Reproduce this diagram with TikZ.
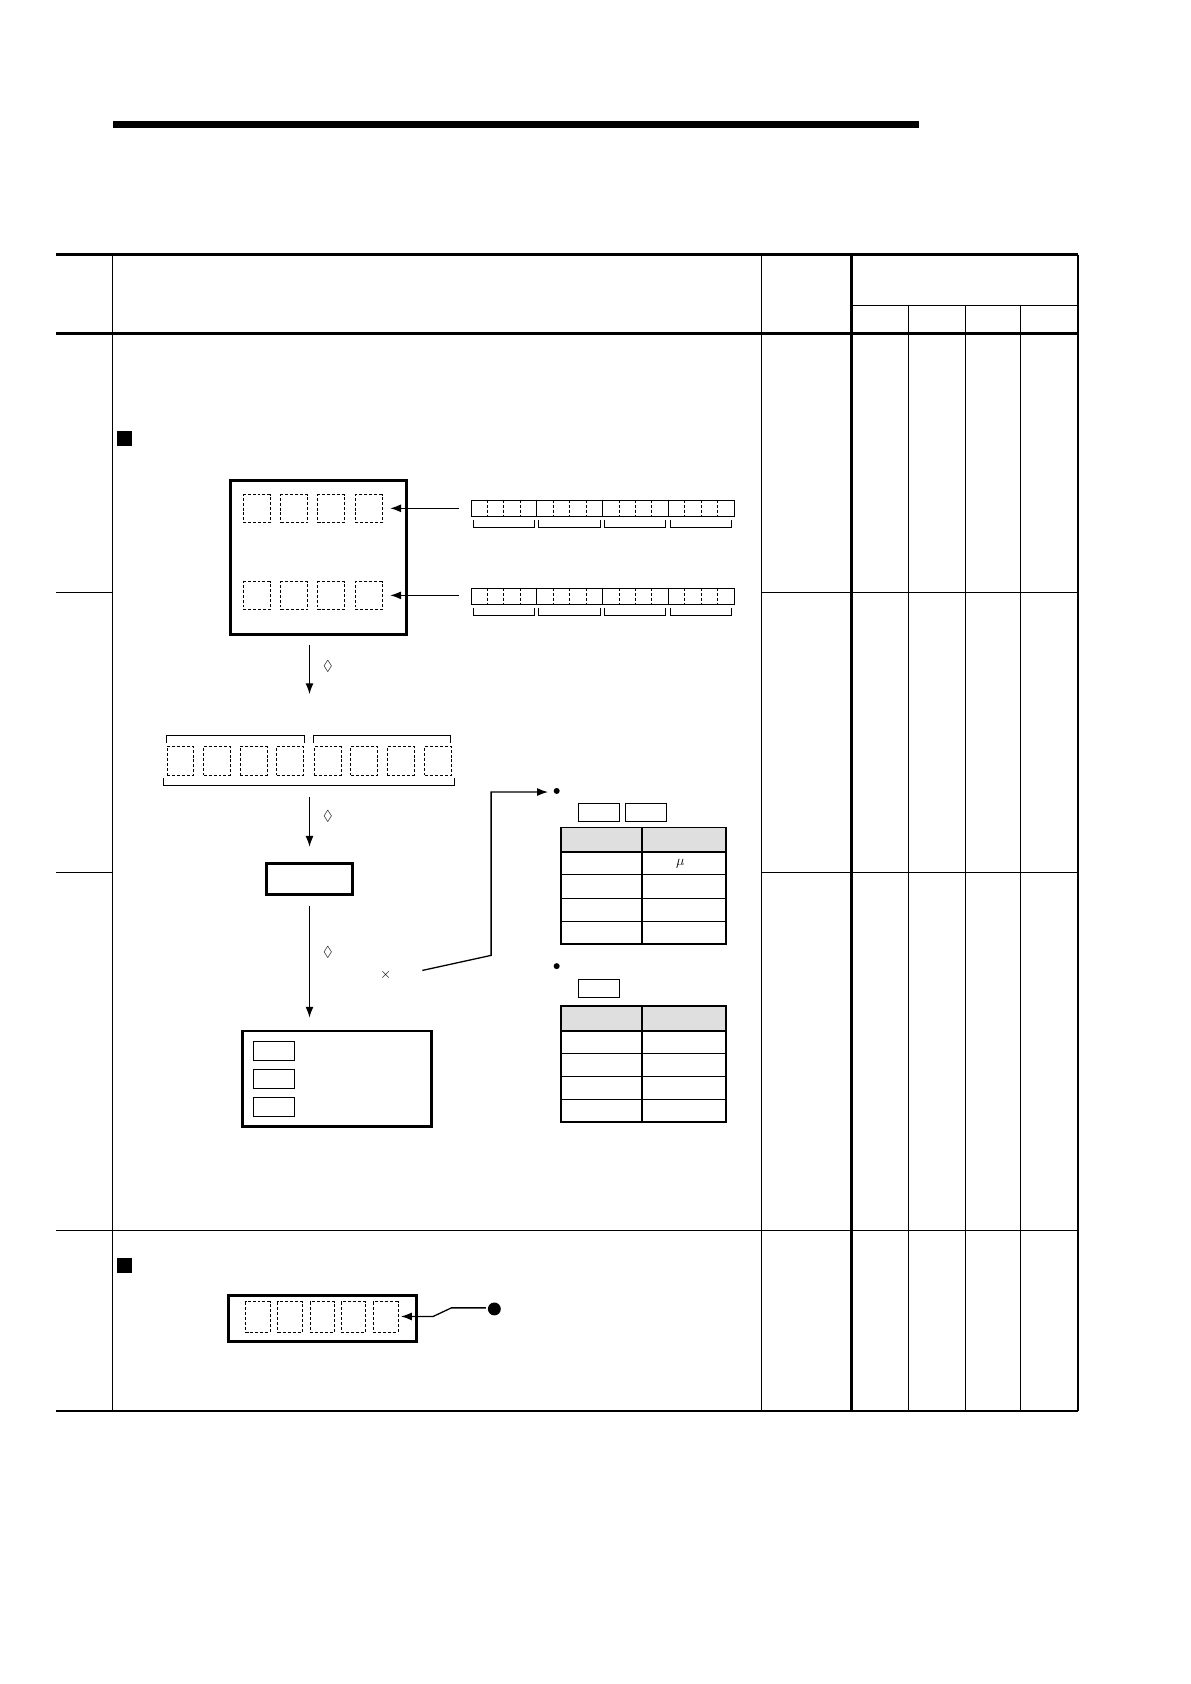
\documentclass[tikz,border=0pt]{standalone}
\usepackage{amssymb}
\usetikzlibrary{arrows.meta}
\tikzset{
  thickbox/.style={draw, line width=2.8pt},
  dashbox/.style={draw, densely dashed, line width=1pt},
  smallbox/.style={draw, line width=1pt},
  thin/.style={line width=1pt},
  thick/.style={line width=2.8pt},
  flow/.style={-{Latex[length=11pt,width=8pt]}, line width=1.3pt},
  sign/.style={font=\Large},
}
\begin{document}
\begin{tikzpicture}[x=1.082pt, y=-1.082pt]
  \useasboundingbox (0,0) rectangle (1108,1567);
  % title bar
  \fill (105,113) rectangle (855,119);
  % outer table frame
  \draw[thick] (52,237) -- (1003,237);
  \draw[thick] (52,310) -- (1003,310);
  \draw[thick] (52,1313) -- (1003,1313);
  \draw[thin] (105,237) -- (105,1313);
  \draw[thin] (709,237) -- (709,1313);
  \draw[thick] (792,237) -- (792,1313);
  \draw[thick] (1003,237) -- (1003,1313);
  \draw[thin] (792,284) -- (1003,284);
  \foreach \x in {845,898,950}
    \draw[thin] (\x,284) -- (\x,1313);
  \foreach \y in {551,812} {
    \draw[thin] (52,\y) -- (105,\y);
    \draw[thin] (709,\y) -- (1003,\y);
  }
  \draw[thin] (52,1145) -- (1003,1145);
  % section markers
  \fill (109,401) rectangle (123,415);
  \fill (109,1171) rectangle (123,1185);

  % device box with two rows
  \node[thickbox, minimum width=164*1.082pt, minimum height=143*1.082pt, anchor=north west] (device) at (213,446) {};
  \foreach \x [count=\i] in {226,261,295,330} {
    \node[dashbox, anchor=north west, minimum width=25*1.082pt, minimum height=26*1.082pt, inner sep=0pt] (upper\i) at (\x,460) {};
    \node[dashbox, anchor=north west, minimum width=25*1.082pt, minimum height=26*1.082pt, inner sep=0pt] (lower\i) at (\x,541) {};
  }
  % bit registers
  \foreach \y/\nm in {465/regA,547/regB} {
    \node[smallbox, anchor=north west, minimum width=245*1.082pt, minimum height=15*1.082pt, inner sep=0pt] (\nm) at (438,\y) {};
    \foreach \k in {1,...,15}
      \draw[line width=0.6pt, densely dashed] ({438+\k*245/16},\y) -- ++(0,15);
    \foreach \k in {4,8,12}
      \draw[thin] ({438+\k*245/16},\y) -- ++(0,15);
    \foreach \g in {0,...,3}
      \draw[line width=0.7pt] ({440+\g*61.25},\y+19) -- ++(0,7) -- ++(57,0) -- ++(0,-7);
  }
  \coordinate (tipA) at (363,473);
  \coordinate (tipB) at (363,554);
  \draw[flow] (427,473) -- (tipA);
  \draw[flow] (427,554) -- (tipB);

  % step 1
  \coordinate (s1a) at (288,600);
  \coordinate (s1b) at (288,646);
  \draw[flow] (s1a) -- (s1b);
  \node[sign] at (305,620) {$\Diamond$};

  % row of eight digits
  \foreach \x [count=\i] in {155,189,223,257,292,326,360,395} {
    \node[dashbox, anchor=north west, minimum width=25*1.082pt, minimum height=27*1.082pt, inner sep=0pt] (digit\i) at (\x,694) {};
  }
  \draw[thin] (155,691) -- (155,684) -- (283,684) -- (283,691);
  \draw[thin] (292,691) -- (292,684) -- (419,684) -- (419,691);
  \draw[thin] (152,724) -- (152,731) -- (423,731) -- (423,724);

  % step 2
  \coordinate (s2a) at (288,742);
  \coordinate (s2b) at (288,788);
  \draw[flow] (s2a) -- (s2b);
  \node[sign] at (305,760) {$\Diamond$};
  \node[thickbox, anchor=north west, minimum width=80*1.082pt, minimum height=29*1.082pt] (value) at (247,802) {};

  % step 3
  \coordinate (s3b) at (288,947);
  \draw[flow] (288,843) -- (s3b);
  \node[sign] at (305,886) {$\Diamond$};
  \node[sign] at (359,907) {$\times$};

  % result box
  \node[thickbox, anchor=north west, minimum width=176*1.082pt, minimum height=89*1.082pt] (result) at (224,958) {};
  \foreach \y [count=\i] in {969,995,1021}
    \node[smallbox, anchor=north west, minimum width=39*1.082pt, minimum height=17*1.082pt, inner sep=0pt] (flag\i) at (235,\y) {};

  % reference to tables
  \coordinate (lead) at (393,903);
  \coordinate (bendA) at (457,889);
  \coordinate (bendB) at (457,737);
  \coordinate (dotA) at (510,737);
  \draw[flow] (lead) -- (bendA) -- (bendB) -- (dotA);
  \fill (518,736) circle (2.8);
  \fill (518,899) circle (2.8);
  \node[smallbox, anchor=north west, minimum width=38*1.082pt, minimum height=17*1.082pt, inner sep=0pt] (keyA) at (538,747) {};
  \node[smallbox, anchor=north west, minimum width=38*1.082pt, minimum height=17*1.082pt, inner sep=0pt] (keyB) at (582,747) {};
  \node[smallbox, anchor=north west, minimum width=38*1.082pt, minimum height=17*1.082pt, inner sep=0pt] (keyC) at (538,911) {};

  % two tables
  \foreach \t in {770,936} {
    \fill[gray!25] (522,\t) rectangle (676,\t+23);
    \draw[line width=2pt] (522,\t) rectangle (676,\t+108);
    \draw[line width=2pt] (597,\t) -- (597,\t+108);
    \draw[line width=2pt] (522,\t+23) -- (676,\t+23);
    \foreach \r in {44,66,87}
      \draw[thin] (522,\t+\r) -- (676,\t+\r);
  }
  \node[sign] at (633,804) {$\mu$};

  % bottom display
  \node[thickbox, anchor=north west, minimum width=175*1.082pt, minimum height=43*1.082pt] (display) at (211,1204) {};
  \foreach \x [count=\i] in {228,258,288,317,347}
    \node[dashbox, anchor=north west, minimum width=23*1.082pt, minimum height=28*1.082pt, inner sep=0pt] (seg\i) at (\x,1211) {};
  \fill (460,1218) circle (6);
  \draw[flow] (452,1217) -- (420,1217) -- (403,1225) -- (373,1225);
\end{tikzpicture}
\end{document}
